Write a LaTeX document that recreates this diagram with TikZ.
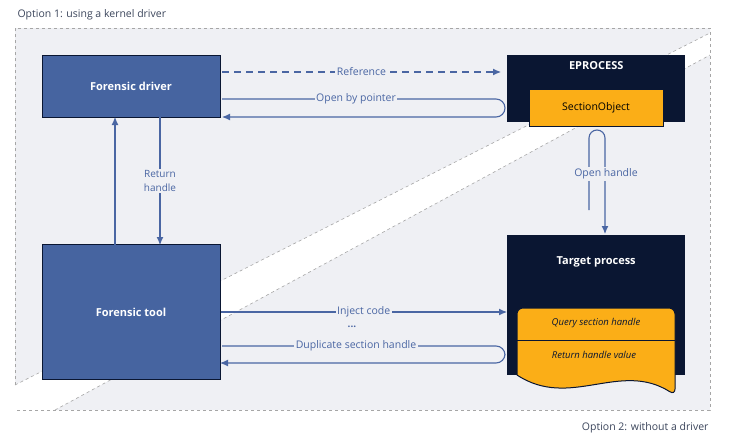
\documentclass[tikz,border=0pt]{standalone}
\usepackage{fontspec}
\setmainfont{Open Sans}
\usetikzlibrary{arrows.meta}
\definecolor{flow}{HTML}{4A66A3}
\definecolor{boxblue}{HTML}{4664A0}
\definecolor{navy}{HTML}{0A1632}
\definecolor{amber}{HTML}{FBAE17}
\definecolor{zone}{HTML}{EFF0F4}
\tikzset{
	box/.style={draw=navy, line width=1pt, fill=boxblue, text=white, font=\bfseries\fontsize{11}{13}\selectfont},
	dark/.style={fill=navy, text=white, font=\bfseries\fontsize{11}{13}\selectfont},
	link/.style={draw=flow, line width=1.1pt, -{Latex[length=8pt,width=7pt]}},
	lbl/.style={fill=zone, text=flow, inner sep=1.5pt, font=\fontsize{10.5}{12}\selectfont},
	zoneline/.style={draw=gray!70, dashed, line width=0.6pt}
}
\begin{document}
\begin{tikzpicture}[x=1pt,y=-1pt]
	\useasboundingbox (0,0) rectangle (731,445);
	% the two zones
	\fill[zone] (15,28) -- (710,28) -- (710,33) -- (15,385) -- cycle;
	\fill[zone] (710,55) -- (710,410) -- (55,410) -- cycle;
	\draw[zoneline] (15,385) -- (15,28) -- (710,28) -- (710,410) -- (15,410);
	\draw[zoneline] (15,385) -- (710,33);
	\draw[zoneline] (55,410) -- (710,55);
	\node[anchor=west, text=navy!80, font=\fontsize{10.5}{12}\selectfont] (opt1) at (14,15) {Option 1: using a kernel driver};
	\node[anchor=east, text=navy!80, font=\fontsize{10.5}{12}\selectfont] (opt2) at (712,428) {Option 2: without a driver};

	% boxes
	\node[box, minimum width=178, minimum height=62] (drv) at (131,86) {Forensic driver};
	\node[box, minimum width=178, minimum height=135] (tool) at (131,312) {Forensic tool};
	\node[dark, minimum width=178, minimum height=67, anchor=north west, text depth=46pt] (eproc) at (507,55) {EPROCESS};
	\node[draw=navy, line width=1pt, fill=amber, minimum width=134, minimum height=37,
		font=\fontsize{10.5}{12}\selectfont] (sect) at (596,108) {SectionObject};
	\node[dark, minimum width=178, minimum height=140, anchor=north west, text depth=90pt] (target) at (507,235) {Target process};
	% handle routine on the target process
	\draw[navy, line width=1pt, fill=amber, rounded corners=6pt] (517,375) -- (517,308) -- (675,308) -- (675,395) [sharp corners]
		.. controls (620,360) and (570,410) .. (517,375);
	\draw[navy, line width=1pt] (517,340) -- (675,340);
	\node[font=\itshape\fontsize{9.5}{11}\selectfont, text=navy] (query) at (596,323) {Query section handle};
	\node[font=\itshape\fontsize{9.5}{11}\selectfont, text=navy] (ret) at (594,355) {Return handle value};

	\coordinate (refA) at (222,72);
	\coordinate (refB) at (501,72);
	\coordinate (upA) at (115,245);
	\coordinate (upB) at (115,117);
	\coordinate (dnA) at (160,117);
	\coordinate (dnB) at (160,245);

	% connectors
	\draw[link, dashed, dash pattern=on 7pt off 5pt] (refA) -- node[lbl]{Reference} (refB);
	\draw[link, rounded corners=9pt] (222,99) -- (505,99) -- (505,117) -- (222,117);
	\node[lbl] (ptr) at (356,99) {Open by pointer};
	\draw[link] (upA) -- (upB);
	\draw[link] (dnA) -- node[lbl, align=center, font=\fontsize{10}{14}\selectfont]{Return\\handle} (dnB);
	\draw[link, rounded corners=8pt] (589,210) -- (589,130) -- (605,130) -- (605,234);
	\node[lbl] (oh) at (606,174) {Open handle};
	\draw[link] (tool.east |- 0,312) -- node[lbl]{Inject code} (target.west |- 0,312);
	\node[text=flow, font=\bfseries\fontsize{10}{10}\selectfont] (dots) at (352,327) {...};
	\draw[link, rounded corners=9pt] (222,346) -- (505,346) -- (505,363) -- (220,363);
	\node[lbl] (dup) at (356,346) {Duplicate section handle};
\end{tikzpicture}
\end{document}
